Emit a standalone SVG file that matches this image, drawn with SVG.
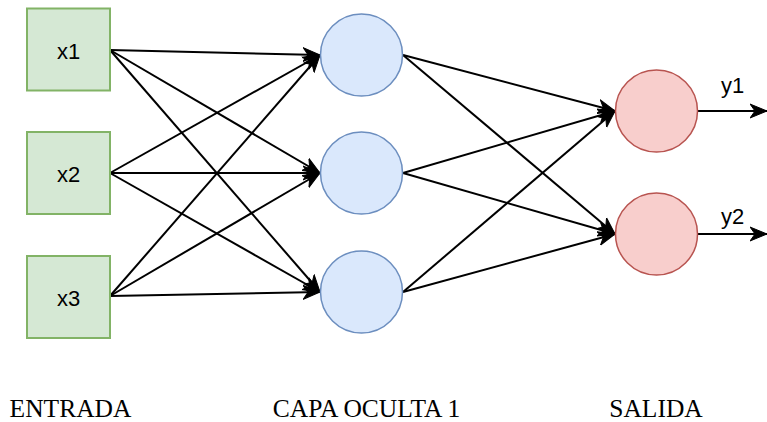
<svg xmlns="http://www.w3.org/2000/svg" width="767" height="422" viewBox="0 0 767 422">
<style>
.in{fill:#d5e8d4;stroke:#82b366;stroke-width:2}
.hid{fill:#dae8fc;stroke:#6c8ebf;stroke-width:1.5}
.out{fill:#f8cecc;stroke:#b85450;stroke-width:1.5}
.lbl{font-family:Helvetica,"Liberation Sans",Arial,sans-serif;font-size:22px;fill:#000;text-anchor:middle}
.cap{font-family:"Liberation Serif","Times New Roman",serif;font-size:25.5px;fill:#000;text-anchor:middle}
.e{stroke:#000;stroke-width:2;fill:none;marker-end:url(#arr)}
</style>
<defs>
<marker id="arr" markerUnits="userSpaceOnUse" markerWidth="20" markerHeight="16" refX="17" refY="8" orient="auto">
<path d="M0,1 L17,8 L0,15 L5,8 Z" fill="#000" stroke="#000" stroke-width="1"/>
</marker>
</defs>
<g id="connectors">
<line class="e" x1="110" y1="50" x2="320" y2="55"/>
<line class="e" x1="110" y1="50" x2="320" y2="173"/>
<line class="e" x1="110" y1="50" x2="320" y2="292"/>
<line class="e" x1="110" y1="173" x2="320" y2="55"/>
<line class="e" x1="110" y1="173" x2="320" y2="173"/>
<line class="e" x1="110" y1="173" x2="320" y2="292"/>
<line class="e" x1="110" y1="296" x2="320" y2="55"/>
<line class="e" x1="110" y1="296" x2="320" y2="173"/>
<line class="e" x1="110" y1="296" x2="320" y2="292"/>
<line class="e" x1="403" y1="55" x2="615" y2="111"/>
<line class="e" x1="403" y1="55" x2="615" y2="234"/>
<line class="e" x1="403" y1="173" x2="615" y2="111"/>
<line class="e" x1="403" y1="173" x2="615" y2="234"/>
<line class="e" x1="403" y1="292" x2="615" y2="111"/>
<line class="e" x1="403" y1="292" x2="615" y2="234"/>
<line class="e" x1="698" y1="111" x2="767" y2="111"/>
<line class="e" x1="698" y1="234" x2="767" y2="234"/>
</g>
<g id="x1"><rect class="in" x="27" y="8.5" width="83" height="82"/><text class="lbl" x="68.5" y="59">x1</text></g>
<g id="x2"><rect class="in" x="27" y="132" width="83" height="82"/><text class="lbl" x="68.5" y="182">x2</text></g>
<g id="x3"><rect class="in" x="27" y="256" width="83" height="82"/><text class="lbl" x="68.5" y="306">x3</text></g>
<g id="h1"><circle class="hid" cx="361.5" cy="55" r="41"/></g>
<g id="h2"><circle class="hid" cx="361.5" cy="173" r="41"/></g>
<g id="h3"><circle class="hid" cx="361.5" cy="292" r="41"/></g>
<g id="o1"><circle class="out" cx="656.5" cy="111" r="41"/></g>
<g id="o2"><circle class="out" cx="656.5" cy="234" r="41"/></g>
<g id="y1"><text class="lbl" x="732.5" y="93">y1</text></g>
<g id="y2"><text class="lbl" x="732.5" y="224">y2</text></g>
<g id="captions">
<text class="cap" x="70.5" y="417">ENTRADA</text>
<text class="cap" x="366.5" y="417">CAPA OCULTA 1</text>
<text class="cap" x="656" y="417">SALIDA</text>
</g>
</svg>
